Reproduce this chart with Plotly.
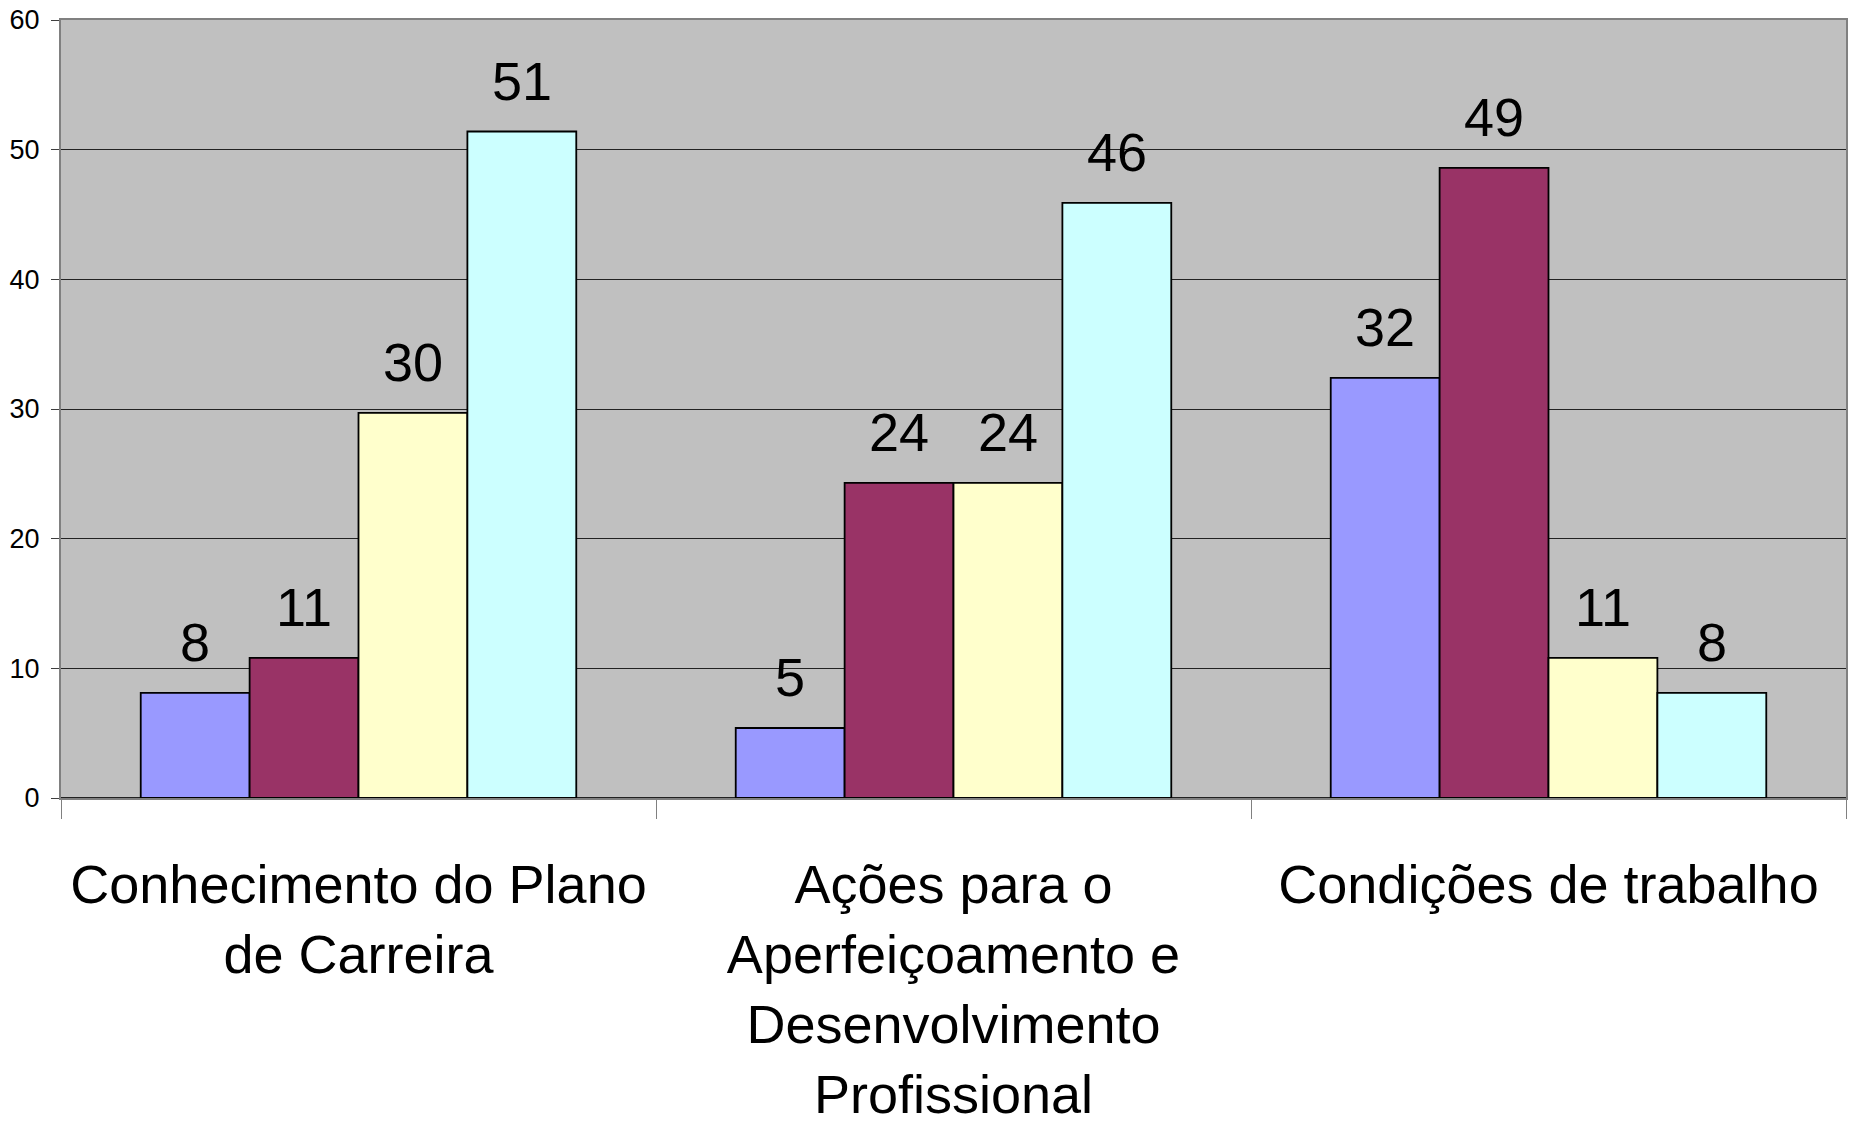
import plotly.graph_objects as go

categories = [
    "Conhecimento do Plano<br>de Carreira",
    "Ações para o<br>Aperfeiçoamento e<br>Desenvolvimento<br>Profissional",
    "Condições de trabalho",
]
series_names = ["Série 1", "Série 2", "Série 3", "Série 4"]
series_values = [
    [8.1, 5.4, 32.4],
    [10.8, 24.3, 48.6],
    [29.7, 24.3, 10.8],
    [51.4, 45.9, 8.1],
]
series_colors = ["#9999FF", "#993366", "#FFFFCC", "#CCFFFF"]
y_ticks = [0, 10, 20, 30, 40, 50, 60]

BARGAP = 0.268
FONT = "Liberation Sans, Arial, sans-serif"

fig = go.Figure()
for name, vals, col in zip(series_names, series_values, series_colors):
    fig.add_trace(go.Bar(
        x=categories, y=vals, name=name,
        marker=dict(color=col, line=dict(color="#000000", width=1.8)),
        hoverinfo="y",
    ))

# value labels above bars (offset within each category group)
n = len(series_values)
bw = (1 - BARGAP) / n
annotations = []
for si, vals in enumerate(series_values):
    off = -(1 - BARGAP) / 2 + bw * (si + 0.5)
    for ci, v in enumerate(vals):
        annotations.append(dict(
            x=ci + off, y=v, xref="x", yref="y",
            text=f"{round(v):d}", showarrow=False,
            yanchor="bottom", yshift=19,
            font=dict(family=FONT, size=54, color="#000000"),
        ))

fig.update_layout(
    width=1851, height=1125,
    margin=dict(l=61, r=5, t=20, b=327),
    paper_bgcolor="#FFFFFF", plot_bgcolor="#C0C0C0",
    barmode="group", bargap=BARGAP, bargroupgap=0,
    showlegend=False,
    font=dict(family=FONT, color="#000000"),
    annotations=annotations,
)
fig.update_xaxes(
    automargin=False, tickangle=0,
    showline=True, linecolor="#808080", linewidth=2, mirror=True,
    ticks="outside", tickson="boundaries", ticklen=19, tickcolor="#808080", tickwidth=1,
    tickfont=dict(family=FONT, size=54, color="#000000"),
    ticklabelstandoff=38,
    showgrid=False,
)
fig.update_yaxes(
    automargin=False,
    range=[0, 60], tickvals=y_ticks,
    showline=True, linecolor="#808080", linewidth=2, mirror=True,
    ticks="outside", ticklen=8, tickcolor="#404040",
    tickfont=dict(family=FONT, size=27, color="#000000"),
    ticklabelstandoff=6,
    showgrid=True, gridcolor="#222222", gridwidth=1,
    zeroline=True, zerolinecolor="#222222", zerolinewidth=2,
)

fig.write_html(
    "out.html",
    config={"displayModeBar": False},
    post_script="document.body.style.margin='0';document.body.style.overflow='hidden';",
)
